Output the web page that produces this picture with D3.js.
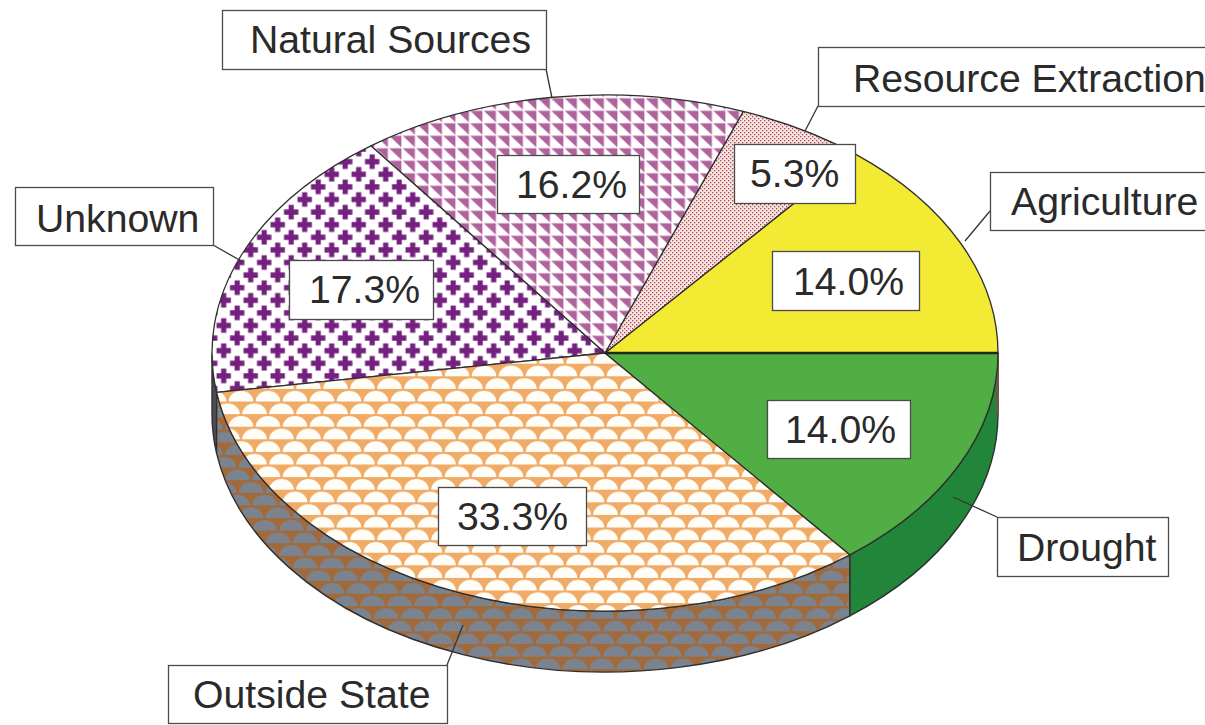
<!DOCTYPE html>
<html>
<head>
<meta charset="utf-8">
<script src="https://cdn.jsdelivr.net/npm/d3@7/dist/d3.min.js"></script>
<style>
html,body{margin:0;padding:0;background:#fff;overflow:hidden}
svg{display:block}
text{font-family:"Liberation Sans",Arial,sans-serif;fill:#2a2a2a}
</style>
</head>
<body>
<div id="chart"></div>
<script>
const categories = ["Agriculture","Resource Extraction","Natural Sources","Unknown","Outside State","Drought"];
const values = [14.0,5.3,16.2,17.3,33.3,14.0];
const topFills = ["#f2ea33","url(#dots)","url(#tri)","url(#cross)","url(#scaleTop)","#50ae45"];
const wallFills = ["#6b5a48","#6b5a48","#6b5a48","#4d4d55","url(#scaleWall)","#21853a"];
// the printed pie is slightly off true proportion: degrees to shift each slice's far edge
const edgeShiftDeg = [0,0,-1.1,-1.1,-1.1,0];
const nameBoxes = [
  {x:990,y:172,w:225,h:58,tx:1011,ty:214,lx:990,ly:211,ex:965,ey:241},
  {x:818,y:47,w:400,h:59,tx:853,ty:91,lx:818,ly:106,ex:805,ey:131},
  {x:222,y:10,w:324,h:59,tx:250,ty:52,lx:546,ly:69,ex:552,ey:98},
  {x:15,y:187,w:198,h:58,tx:36,ty:231,lx:213,ly:245,ex:243,ey:262},
  {x:168,y:665,w:279,h:58,tx:193,ty:707,lx:447,ly:665,ex:463,ey:625},
  {x:997,y:517,w:171,h:59,tx:1017,ty:560,lx:997,ly:517,ex:953,ey:497}
];
const valueBoxes = [
  {x:772,y:251,w:147,h:59,tx:793,ty:294},
  {x:734,y:144,w:121,h:59,tx:750,ty:186},
  {x:497,y:155,w:142,h:58,tx:516,ty:197},
  {x:289,y:260,w:144,h:59,tx:309,ty:302},
  {x:438,y:487,w:148,h:58,tx:457,ty:529},
  {x:767,y:400,w:143,h:58,tx:785,ty:442}
];
const W=1205,H=725,cx=605,cy=353,rx=393,ry=258,depth=61;
const svg=d3.select("#chart").append("svg").attr("width",W).attr("height",H).attr("viewBox",`0 0 ${W} ${H}`);
const defs=svg.append("defs");
function pat(id,w,h,bg,tx,ty){const p=defs.append("pattern").attr("id",id).attr("patternUnits","userSpaceOnUse").attr("width",w).attr("height",h).attr("patternTransform",`translate(${tx},${ty})`);p.append("rect").attr("width",w).attr("height",h).attr("fill",bg);return p;}
// small dots
{const p=pat("dots",4,4,"#f6e6e3",0,0);
 p.append("rect").attr("x",0).attr("y",0).attr("width",1.3).attr("height",1.3).attr("fill","#ab4650");
 p.append("rect").attr("x",2).attr("y",2).attr("width",1.3).attr("height",1.3).attr("fill","#ab4650");}
// triangles
{const p=pat("tri",13.5,12.5,"#fff",442.5,122.8);
 p.append("path").attr("d","M0.7,0.6H12.9V11.9Z").attr("fill","#b0629d");}
// crosses
{const TW=27,TH=25.2,p=pat("cross",TW,TH,"#fff",250.7,350.7);
 [[0,0],[TW,0],[0,TH],[TW,TH],[TW/2,TH/2]].forEach(([a,b])=>{
  p.append("path").attr("d",`M${a-7.2},${b-2.6}H${a-2.6}V${b-7.2}H${a+2.6}V${b-2.6}H${a+7.2}V${b+2.6}H${a+2.6}V${b+7.2}H${a-2.6}V${b+2.6}H${a-7.2}Z`).attr("fill","#74207f");
 });}
// scales
function scalePat(id,bg,dome,tx,ty){const TW=27,TH=25.2,p=pat(id,TW,TH,bg,tx,ty);
 [[0,TH/2],[TW,TH/2],[TW/2,TH]].forEach(([a,b])=>{
  p.append("path").attr("d",`M${a-12.3},${b}A12.3,10.6 0 0 1 ${a+12.3},${b}Z`).attr("fill",dome);
 });
 return p;}
scalePat("scaleTop","#f0ab66","#fffdf8",538,414.1);
scalePat("scaleWall","#a2693a","#7b838e",575,631.4);

const pie=d3.pie().sort(null).startAngle(0).endAngle(2*Math.PI);
const rad=d=>d*Math.PI/180;
const arcs=pie(values).map((a,i)=>({
  startAngle:a.startAngle+(i?rad(edgeShiftDeg[i-1]):0),
  endAngle:a.endAngle+rad(edgeShiftDeg[i])
}));
const px=t=>cx+rx*Math.cos(t), py=t=>cy-ry*Math.sin(t);
const stroke="#2f2f2f";
const walls=svg.append("g");
arcs.forEach((a,i)=>{
  const t0=Math.max(a.startAngle,Math.PI),t1=a.endAngle;
  if(t1<=Math.PI) return;
  const large=(t1-t0)>Math.PI?1:0;
  walls.append("path")
   .attr("d",`M${px(t0)},${py(t0)}A${rx},${ry} 0 ${large} 0 ${px(t1)},${py(t1)}V${py(t1)+depth}A${rx},${ry} 0 ${large} 1 ${px(t0)},${py(t0)+depth}Z`)
   .attr("fill",wallFills[i]).attr("stroke",stroke).attr("stroke-width",1.4);
});
walls.append("line").attr("x1",px(0)-0.5).attr("x2",px(0)-0.5).attr("y1",cy).attr("y2",cy+depth)
  .attr("stroke","#6b5a48").attr("stroke-width",3);
const tops=svg.append("g");
arcs.forEach((a,i)=>{
  const t0=a.startAngle,t1=a.endAngle,large=(t1-t0)>Math.PI?1:0;
  tops.append("path")
   .attr("d",`M${cx},${cy}L${px(t0)},${py(t0)}A${rx},${ry} 0 ${large} 0 ${px(t1)},${py(t1)}Z`)
   .attr("fill",topFills[i]).attr("stroke",stroke).attr("stroke-width",1.3).attr("stroke-linejoin","round");
});
tops.append("line").attr("x1",cx).attr("x2",px(0)).attr("y1",cy).attr("y2",cy).attr("stroke","#1d2a12").attr("stroke-width",2.4);
const boxStroke="#4a4a4a";
svg.append("g").selectAll("line").data(nameBoxes).join("line")
  .attr("x1",d=>d.lx).attr("y1",d=>d.ly).attr("x2",d=>d.ex).attr("y2",d=>d.ey)
  .attr("stroke","#333").attr("stroke-width",1.3);
function drawBoxes(boxes,labels){
  const g=svg.append("g").selectAll("g").data(boxes).join("g");
  g.append("rect").attr("x",d=>d.x+.5).attr("y",d=>d.y+.5).attr("width",d=>d.w).attr("height",d=>d.h)
   .attr("fill","#fff").attr("stroke",boxStroke).attr("stroke-width",1.3);
  g.append("text").attr("x",d=>d.tx).attr("y",d=>d.ty+1).attr("font-size",39.2).text((d,i)=>labels[i]);
}
drawBoxes(nameBoxes,categories);
drawBoxes(valueBoxes,values.map(v=>v.toFixed(1)+"%"));
</script>
</body>
</html>
